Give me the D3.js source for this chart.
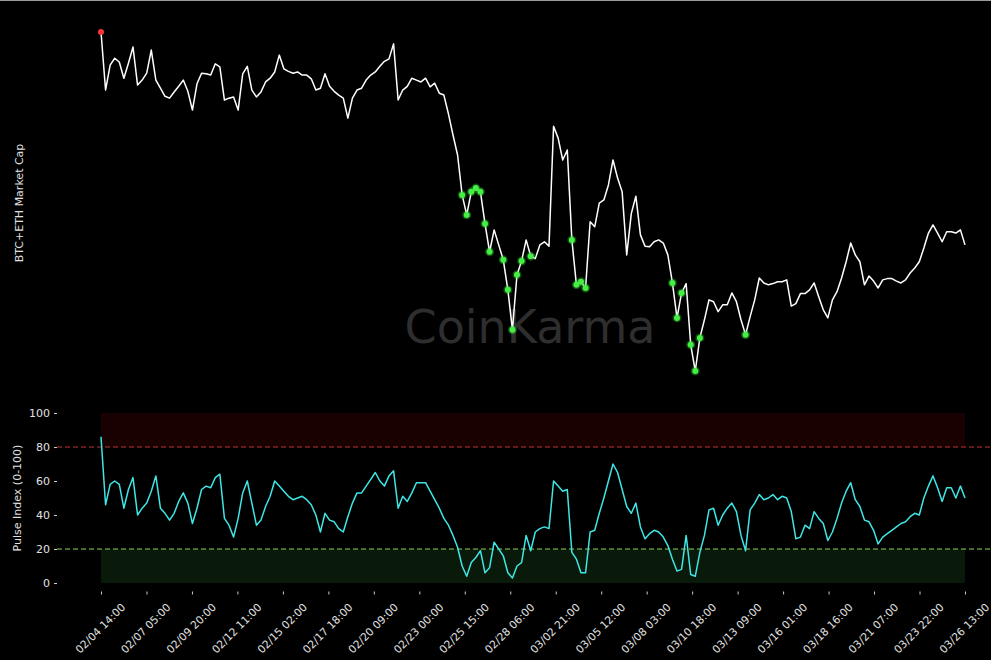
<!DOCTYPE html>
<html><head><meta charset="utf-8">
<script src="https://cdn.jsdelivr.net/npm/d3@7"></script>
<style>html,body{margin:0;padding:0;background:#000;overflow:hidden}</style>
</head><body>
<svg id="chart" width="991" height="660"></svg>
<script>
// X tick labels (linspace over the sample index range)
const tickLabels = ["02/04 14:00","02/07 05:00","02/09 20:00","02/12 11:00","02/15 02:00","02/17 18:00","02/20 09:00","02/23 00:00","02/25 15:00","02/28 06:00","03/02 21:00","03/05 12:00","03/08 03:00","03/10 18:00","03/13 09:00","03/16 01:00","03/18 16:00","03/21 07:00","03/23 22:00","03/26 13:00"];

// BTC+ETH market cap (billions USD), sampled roughly every 6 hours
const marketCap = [2302,2209,2249,2260,2254,2228,2252,2278,2217,2225,
 2236,2273,2225,2212,2199,2196,2206,2215,2225,2207,
 2177,2219,2236,2235,2233,2251,2246,2193,2196,2198,
 2177,2235,2247,2209,2198,2206,2222,2228,2238,2265,
 2243,2239,2236,2238,2233,2233,2227,2209,2212,2235,
 2215,2207,2201,2196,2164,2196,2209,2212,2225,2233,
 2238,2247,2255,2259,2283,2193,2209,2215,2228,2225,
 2222,2228,2214,2220,2204,2201,2171,2137,2105,2041,
 2009,2046,2052,2046,1995,1950,1985,1961,1937,1889,
 1825,1913,1935,1969,1943,1939,1961,1966,1959,2151,
 2132,2097,2113,1969,1897,1902,1892,1998,1990,2028,
 2033,2057,2097,2068,2046,1945,2011,2039,1977,1959,
 1958,1966,1969,1964,1945,1900,1844,1884,1899,1801,
 1759,1812,1841,1873,1870,1854,1865,1865,1884,1870,
 1841,1817,1846,1873,1908,1900,1897,1899,1902,1902,
 1905,1863,1867,1883,1883,1889,1900,1878,1857,1844,
 1873,1886,1908,1934,1964,1945,1934,1897,1911,1903,
 1892,1905,1907,1907,1903,1900,1905,1916,1924,1934,
 1956,1980,1993,1980,1966,1982,1982,1980,1985,1961];

// Pulse Index (0-100), same sampling
const pulse = [86,46,58,60,58,44,55,62,40,44,
 47,54,63,44,41,37,41,48,53,47,
 35,44,55,57,56,62,64,38,34,27,
 38,53,60,47,34,37,45,51,60,57,
 54,51,49,50,51,49,46,40,30,41,
 37,36,32,30,39,47,53,53,57,61,
 65,60,57,63,66,44,51,48,53,59,
 59,59,54,49,44,38,34,28,21,10,
 4,12,15,19,6,9,24,20,16,6,
 3,10,12,28,19,30,32,33,32,60,
 57,54,55,18,14,6,6,30,31,41,
 50,60,70,65,55,45,41,47,33,26,
 29,31,30,27,22,14,7,8,28,5,
 4,18,28,43,44,34,40,44,47,42,
 28,19,43,47,52,49,50,52,49,51,
 50,42,26,27,34,32,42,38,35,25,
 30,38,47,54,59,49,45,37,36,31,
 23,27,29,31,33,35,36,39,41,40,
 50,57,63,56,48,56,56,50,57,50];

const pulseTicks = [0,20,40,60,80,100];
const overbought = 80, oversold = 20;

const W = 991, H = 660;
const FONT = "'DejaVu Sans', sans-serif";
const svg = d3.select("#chart");
svg.append("rect").attr("width", W).attr("height", H).attr("fill", "#000");
svg.append("line").attr("x1",0).attr("x2",W).attr("y1",0.5).attr("y2",0.5).attr("stroke","#9a9a9a").attr("stroke-width",1);

const N = marketCap.length;
const x = d3.scaleLinear().domain([0, N - 1]).range([101, 965]);
const yTop = d3.scaleLinear().domain(d3.extent(marketCap)).range([371, 32]);
const yP = d3.scaleLinear().domain([-5, 105]).range([591.5, 404.5]);

// watermark
svg.append("text").attr("x", 530).attr("y", 343).attr("text-anchor", "middle")
  .attr("font-family", FONT).attr("font-size", 46).attr("fill", "#2e2e2e").text("CoinKarma");

// ---- top panel ----
const lineTop = d3.line().x((d, i) => x(i)).y(d => yTop(d));
svg.append("path").datum(marketCap).attr("d", lineTop)
  .attr("fill", "none").attr("stroke", "#fff").attr("stroke-width", 1.5).attr("stroke-linejoin", "round");

const greens = d3.range(N).filter(i => pulse[i] < oversold);
const reds = d3.range(N).filter(i => pulse[i] > overbought);
const gDots = svg.append("g");
gDots.selectAll("circle.glow").data(greens).join("circle")
  .attr("cx", i => x(i)).attr("cy", i => yTop(marketCap[i])).attr("r", 4.5)
  .attr("fill", "#33dd33").attr("opacity", 0.35);
gDots.selectAll("circle.dot").data(greens).join("circle")
  .attr("cx", i => x(i)).attr("cy", i => yTop(marketCap[i])).attr("r", 3)
  .attr("fill", "#44ee44");
svg.append("g").selectAll("circle").data(reds).join("circle")
  .attr("cx", i => x(i)).attr("cy", i => yTop(marketCap[i])).attr("r", 3)
  .attr("fill", "#ff3333");

svg.append("text").attr("transform", "translate(19,203) rotate(-90)")
  .attr("text-anchor", "middle").attr("dominant-baseline", "central")
  .attr("font-family", FONT).attr("font-size", 11).attr("fill", "#e0e0e0").text("BTC+ETH Market Cap");

// ---- bottom panel ----
svg.append("rect").attr("x", x(0)).attr("width", x(N - 1) - x(0))
  .attr("y", yP(100)).attr("height", yP(overbought) - yP(100)).attr("fill", "#1a0101");
svg.append("rect").attr("x", x(0)).attr("width", x(N - 1) - x(0))
  .attr("y", yP(oversold)).attr("height", yP(0) - yP(oversold)).attr("fill", "#0a1a0a");
svg.append("line").attr("x1", 57).attr("x2", W).attr("y1", yP(overbought)).attr("y2", yP(overbought))
  .attr("stroke", "#c03434").attr("stroke-width", 1).attr("stroke-dasharray", "5,3");
svg.append("line").attr("x1", 57).attr("x2", W).attr("y1", yP(oversold)).attr("y2", yP(oversold))
  .attr("stroke", "#8fd14f").attr("stroke-width", 1).attr("stroke-dasharray", "5,3");

const lineP = d3.line().x((d, i) => x(i)).y(d => yP(d));
svg.append("path").datum(pulse).attr("d", lineP)
  .attr("fill", "none").attr("stroke", "#3ee6e6").attr("stroke-width", 1.5).attr("stroke-linejoin", "round");

const yAxis = svg.append("g").attr("transform", "translate(57,0)")
  .call(d3.axisLeft(yP).tickValues(pulseTicks).tickSize(3).tickPadding(4));
yAxis.select(".domain").remove();
yAxis.selectAll("line").attr("stroke", "#ccc");
yAxis.selectAll("text").attr("fill", "#e0e0e0").attr("font-family", FONT).attr("font-size", 11);

const tickPos = d3.range(tickLabels.length).map(k => k * (N - 1) / (tickLabels.length - 1));
const xAxis = svg.append("g").attr("transform", "translate(0,591.5)")
  .call(d3.axisBottom(x).tickValues(tickPos).tickSize(3)
    .tickFormat(d => tickLabels[Math.round(d * (tickLabels.length - 1) / (N - 1))]));
xAxis.select(".domain").remove();
xAxis.selectAll("line").attr("stroke", "#ccc");
xAxis.selectAll("text").attr("fill", "#e0e0e0").attr("font-family", FONT).attr("font-size", 10.7)
  .attr("y", 0).attr("dy", 0).attr("text-anchor", "middle").attr("dominant-baseline", "central")
  .attr("transform", "translate(-1,37) rotate(-45)");

svg.append("text").attr("transform", "translate(17,498) rotate(-90)")
  .attr("text-anchor", "middle").attr("dominant-baseline", "central")
  .attr("font-family", FONT).attr("font-size", 11).attr("fill", "#e0e0e0").text("Pulse Index (0-100)");
</script>
</body></html>
